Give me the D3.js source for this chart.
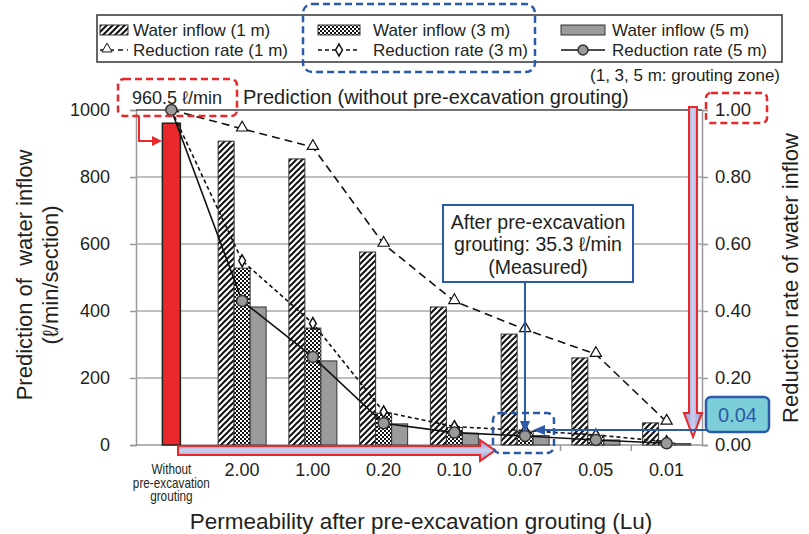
<!DOCTYPE html>
<html><head><meta charset="utf-8">
<script src="https://d3js.org/d3.v7.min.js"></script>
<style>
  body { margin: 0; background: #fff; }
  svg { display: block; font-family: "Liberation Sans", Arial, sans-serif; }
</style></head>
<body>
<svg width="809" height="534"></svg>
<script>
// categories (Lu) – first one is the prediction without grouting
const categories = ["Without", "2.00", "1.00", "0.20", "0.10", "0.07", "0.05", "0.01"];
const grouted = categories.slice(1);
const predictionWithout = 960.5;
const inflow1m = [907, 854, 576, 412, 331, 260, 66];
const inflow3m = [528, 349, 95, 52, 41, 29, 6];
const inflow5m = [412, 251, 63, 35, 28, 15, 4];
const rate1m = [1.00, 0.944, 0.889, 0.600, 0.429, 0.345, 0.271, 0.069];
const rate3m = [1.00, 0.550, 0.363, 0.099, 0.055, 0.043, 0.030, 0.010];
const rate5m = [1.00, 0.430, 0.263, 0.065, 0.037, 0.027, 0.015, 0.005];
const leftTicks = [0, 200, 400, 600, 800, 1000];
const rightTicks = [0, 0.2, 0.4, 0.6, 0.8, 1.0];

const ink = "#231f20", red = "#e8282b", blue = "#2b5aa8";
const svg = d3.select("svg");
const defs = svg.append("defs");

// patterns
const hatch = defs.append("pattern").attr("id", "hatch").attr("patternUnits", "userSpaceOnUse")
  .attr("width", 6).attr("height", 6);
hatch.append("rect").attr("width", 6).attr("height", 6).attr("fill", "#fff");
hatch.append("path").attr("d", "M0,6 l6,-6 M-1.5,1.5 l3,-3 M4.5,7.5 l3,-3").attr("stroke", "#111").attr("stroke-width", 2);
const check = defs.append("pattern").attr("id", "check").attr("patternUnits", "userSpaceOnUse")
  .attr("width", 4).attr("height", 4);
check.append("rect").attr("width", 4).attr("height", 4).attr("fill", "#111");
check.append("rect").attr("width", 2).attr("height", 2).attr("fill", "#fff");
check.append("rect").attr("x", 2).attr("y", 2).attr("width", 2).attr("height", 2).attr("fill", "#fff");
const gv = defs.append("linearGradient").attr("id", "gv").attr("x1", 0).attr("x2", 1).attr("y1", 0).attr("y2", 0);
gv.append("stop").attr("offset", "0").attr("stop-color", "#8e92c9");
gv.append("stop").attr("offset", "0.5").attr("stop-color", "#cdd0ee");
gv.append("stop").attr("offset", "1").attr("stop-color", "#8e92c9");
const gh = defs.append("linearGradient").attr("id", "gh").attr("x1", 0).attr("x2", 0).attr("y1", 0).attr("y2", 1);
gh.append("stop").attr("offset", "0").attr("stop-color", "#8e92c9");
gh.append("stop").attr("offset", "0.5").attr("stop-color", "#cdd0ee");
gh.append("stop").attr("offset", "1").attr("stop-color", "#8e92c9");

// scales
const x = d3.scaleBand().domain(categories).range([136, 702]);
const cx = c => x(c) + x.bandwidth() / 2;
const sub = d3.scaleBand().domain(["1m", "3m", "5m"]).range([-24, 24]);
const y = d3.scaleLinear().domain([0, 1000]).range([445, 110]);
const yR = d3.scaleLinear().domain([0, 1]).range([445, 110]);

// grid + axes
svg.append("g").attr("transform", "translate(136,0)")
  .call(d3.axisLeft(y).tickValues(leftTicks).tickSize(6).tickPadding(20).tickFormat(d3.format("d")))
  .call(g => g.select(".domain").attr("stroke", "#999").attr("stroke-width", 1.5))
  .call(g => g.selectAll(".tick line").attr("stroke", "#999").attr("stroke-width", 1.5))
  .call(g => g.selectAll(".tick text").attr("fill", ink).attr("font-size", 18).attr("font-family", "Liberation Sans, Arial"));
svg.append("g").selectAll("line").data(leftTicks.filter(d => d > 0)).join("line")
  .attr("x1", 136).attr("x2", 702).attr("y1", d => y(d)).attr("y2", d => y(d))
  .attr("stroke", d => d === 1000 ? "#444" : "#aaa").attr("stroke-width", 1.5);
svg.append("g").attr("transform", "translate(702,0)")
  .call(d3.axisRight(yR).tickValues(rightTicks).tickSize(6).tickPadding(7).tickFormat(d3.format(".2f")))
  .call(g => g.select(".domain").attr("stroke", "#999").attr("stroke-width", 1.5))
  .call(g => g.selectAll(".tick line").attr("stroke", "#999").attr("stroke-width", 1.5))
  .call(g => g.selectAll(".tick text").attr("fill", ink).attr("font-size", 18.5).attr("font-family", "Liberation Sans, Arial"));
svg.append("line").attr("x1", 136).attr("x2", 702).attr("y1", 445).attr("y2", 445)
  .attr("stroke", "#999").attr("stroke-width", 1.5);
svg.append("g").selectAll("line").data(categories.slice(1)).join("line")
  .attr("x1", d => x(d)).attr("x2", d => x(d)).attr("y1", 445).attr("y2", 451)
  .attr("stroke", "#999").attr("stroke-width", 1.5);

// x tick labels
svg.append("g").selectAll("text").data(grouted).join("text")
  .attr("x", d => cx(d)).attr("y", 476).attr("text-anchor", "middle")
  .attr("font-size", 18).attr("fill", ink).text(d => d);
["Without", "pre-excavation", "grouting"].forEach((t, i) =>
  svg.append("text").attr("transform", `translate(${cx("Without")},${474 + i * 13.5}) scale(0.84,1)`)
    .attr("text-anchor", "middle").attr("font-size", 14).attr("fill", ink).text(t));

// bars
svg.append("rect").attr("x", cx("Without") - 9).attr("width", 18)
  .attr("y", y(predictionWithout)).attr("height", y(0) - y(predictionWithout))
  .attr("fill", red).attr("stroke", "#222").attr("stroke-width", 1.5);
const series = [
  { key: "1m", vals: inflow1m, fill: "url(#hatch)" },
  { key: "3m", vals: inflow3m, fill: "url(#check)" },
  { key: "5m", vals: inflow5m, fill: "#9b9b9e" }
];
series.forEach(s => {
  svg.append("g").selectAll("rect").data(grouted).join("rect")
    .attr("x", (d) => cx(d) + sub(s.key)).attr("width", sub.bandwidth())
    .attr("y", (d, i) => y(s.vals[i])).attr("height", (d, i) => y(0) - y(s.vals[i]))
    .attr("fill", s.fill).attr("stroke", "#333").attr("stroke-width", 1);
});

// rate lines
const line = d3.line().x(d => cx(d.c)).y(d => yR(d.v));
const pts = arr => categories.map((c, i) => ({ c, v: arr[i] }));
svg.append("path").attr("d", line(pts(rate1m))).attr("fill", "none").attr("stroke", "#111")
  .attr("stroke-width", 1.6).attr("stroke-dasharray", "8,5");
svg.append("path").attr("d", line(pts(rate3m))).attr("fill", "none").attr("stroke", "#111")
  .attr("stroke-width", 1.6).attr("stroke-dasharray", "4,3");
svg.append("path").attr("d", line(pts(rate5m))).attr("fill", "none").attr("stroke", "#111")
  .attr("stroke-width", 1.6);
svg.append("g").selectAll("path").data(pts(rate1m).slice(1)).join("path")
  .attr("transform", d => `translate(${cx(d.c)},${yR(d.v) - 1})`)
  .attr("d", d3.symbol(d3.symbolTriangle).size(55)).attr("fill", "#fff").attr("stroke", "#111").attr("stroke-width", 1.2);
svg.append("g").selectAll("path").data(pts(rate3m).slice(1)).join("path")
  .attr("transform", d => `translate(${cx(d.c)},${yR(d.v)})`)
  .attr("d", d3.symbol(d3.symbolDiamond).size(40)).attr("fill", "#fff").attr("stroke", "#111").attr("stroke-width", 1.5);
svg.append("g").selectAll("circle").data(pts(rate5m)).join("circle")
  .attr("cx", d => cx(d.c)).attr("cy", d => yR(d.v)).attr("r", 5.5)
  .attr("fill", "#999").attr("stroke", "#333").attr("stroke-width", 1.5);

// axis titles
svg.append("text").attr("transform", "translate(32,275) rotate(-90)").attr("xml:space", "preserve")
  .attr("text-anchor", "middle").attr("font-size", 22).attr("fill", ink).text("Prediction of  water inflow");
svg.append("text").attr("transform", "translate(58,275) rotate(-90)")
  .attr("text-anchor", "middle").attr("font-size", 22).attr("fill", ink).text("(ℓ/min/section)");
svg.append("text").attr("transform", "translate(798,278) rotate(-90)")
  .attr("text-anchor", "middle").attr("font-size", 22).attr("fill", ink).text("Reduction rate of water inflow");
svg.append("text").attr("x", 421).attr("y", 529).attr("text-anchor", "middle")
  .attr("font-size", 22.5).attr("fill", ink).text("Permeability after pre-excavation grouting (Lu)");

// annotations: prediction
svg.append("rect").attr("x", 118).attr("y", 79).attr("width", 119).attr("height", 37).attr("rx", 6)
  .attr("fill", "none").attr("stroke", red).attr("stroke-width", 2.5).attr("stroke-dasharray", "7,4");
svg.append("text").attr("x", 177).attr("y", 104).attr("text-anchor", "middle")
  .attr("font-size", 18).attr("fill", ink).text("960.5 ℓ/min");
svg.append("text").attr("x", 243).attr("y", 104).attr("font-size", 20).attr("fill", ink)
  .text("Prediction (without pre-excavation grouting)");
svg.append("path").attr("d", "M139,116 V141 H153").attr("fill", "none").attr("stroke", red).attr("stroke-width", 2);
svg.append("path").attr("d", "M162,141 L152,136 L152,146 Z").attr("fill", red);

// 1.00 box and down arrow
svg.append("rect").attr("x", 706).attr("y", 93).attr("width", 61).attr("height", 30).attr("rx", 5)
  .attr("fill", "none").attr("stroke", red).attr("stroke-width", 2.5).attr("stroke-dasharray", "7,4");
svg.append("path").attr("d", "M689,107 H697 V413 H702 L693,437 L684,413 H689 Z")
  .attr("fill", "url(#gv)").attr("stroke", red).attr("stroke-width", 2);
// bottom arrow
svg.append("path").attr("d", "M178,446 H480 V440 L495,450.5 L480,461 V455 H178 Z")
  .attr("fill", "url(#gh)").attr("stroke", red).attr("stroke-width", 2);

// measured annotation
svg.append("rect").attr("x", 493).attr("y", 413).attr("width", 61).attr("height", 40).attr("rx", 7)
  .attr("fill", "none").attr("stroke", blue).attr("stroke-width", 2.5).attr("stroke-dasharray", "7,4");
svg.append("line").attr("x1", 525).attr("x2", 525).attr("y1", 283).attr("y2", 424).attr("stroke", blue).attr("stroke-width", 2);
svg.append("path").attr("d", "M525,433 L520,421 L530,421 Z").attr("fill", blue);
svg.append("line").attr("x1", 706).attr("x2", 541).attr("y1", 430).attr("y2", 430).attr("stroke", blue).attr("stroke-width", 2);
svg.append("path").attr("d", "M533,430 L545,425 L545,435 Z").attr("fill", blue);
svg.append("rect").attr("x", 443).attr("y", 205).attr("width", 190).attr("height", 77)
  .attr("fill", "#fff").attr("stroke", blue).attr("stroke-width", 2);
["After pre-excavation", "grouting: 35.3 ℓ/min", "(Measured)"].forEach((t, i) =>
  svg.append("text").attr("x", 538).attr("y", [229, 251, 274][i]).attr("text-anchor", "middle")
    .attr("font-size", 19.5).attr("fill", ink).text(t));
svg.append("rect").attr("x", 706).attr("y", 397).attr("width", 63).attr("height", 35).attr("rx", 5)
  .attr("fill", "#7dcfd7").attr("stroke", blue).attr("stroke-width", 2.5);
svg.append("text").attr("x", 737.5).attr("y", 422).attr("text-anchor", "middle")
  .attr("font-size", 20).attr("fill", blue).text("0.04");

// legend
svg.append("rect").attr("x", 97).attr("y", 15).attr("width", 685).attr("height", 47)
  .attr("fill", "none").attr("stroke", "#333").attr("stroke-width", 1.5);
svg.append("rect").attr("x", 303).attr("y", 4).attr("width", 232).attr("height", 68).attr("rx", 9)
  .attr("fill", "none").attr("stroke", blue).attr("stroke-width", 2.5).attr("stroke-dasharray", "7,4");
const lg = svg.append("g");
const legendCols = [
  { x0: 100, x1: 128, tx: 133, fill: "url(#hatch)", dash: "5,4", sym: "tri", mx: 107, label: "1 m" },
  { x0: 318, x1: 360, tx: 373, fill: "url(#check)", dash: "4,3", sym: "dia", mx: 339, label: "3 m" },
  { x0: 561, x1: 605, tx: 612, fill: "#9b9b9e", dash: null, sym: "cir", mx: 583, label: "5 m" }
];
legendCols.forEach(c => {
  lg.append("rect").attr("x", c.x0).attr("y", 25).attr("width", c.x1 - c.x0).attr("height", 10)
    .attr("fill", c.fill).attr("stroke", "#333").attr("stroke-width", 1);
  lg.append("text").attr("x", c.tx).attr("y", 36).attr("font-size", 17).attr("fill", ink).text(`Water inflow (${c.label})`);
  lg.append("line").attr("x1", c.x0).attr("x2", c.x1).attr("y1", 50).attr("y2", 50)
    .attr("stroke", "#111").attr("stroke-width", 1.6).attr("stroke-dasharray", c.dash);
  if (c.sym === "tri") lg.append("path").attr("transform", `translate(${c.mx},49)`)
    .attr("d", d3.symbol(d3.symbolTriangle).size(45)).attr("fill", "#fff").attr("stroke", "#111");
  if (c.sym === "dia") lg.append("path").attr("transform", `translate(${c.mx},50)`)
    .attr("d", d3.symbol(d3.symbolDiamond).size(40)).attr("fill", "#fff").attr("stroke", "#111").attr("stroke-width", 1.5);
  if (c.sym === "cir") lg.append("circle").attr("cx", c.mx).attr("cy", 50).attr("r", 5)
    .attr("fill", "#999").attr("stroke", "#333").attr("stroke-width", 1.5);
  lg.append("text").attr("x", c.tx).attr("y", 56).attr("font-size", 17).attr("fill", ink).text(`Reduction rate (${c.label})`);
});
svg.append("text").attr("x", 780).attr("y", 81).attr("text-anchor", "end")
  .attr("font-size", 17).attr("fill", ink).text("(1, 3, 5 m: grouting zone)");
</script>
</body></html>
